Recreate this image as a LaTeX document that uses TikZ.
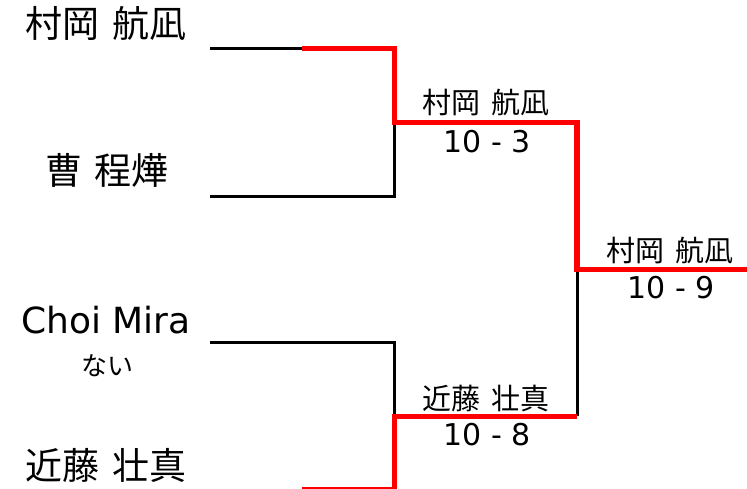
\documentclass[tikz,border=0pt]{standalone}
\usepackage{fontspec}
\setmainfont{DejaVu Sans}
\newfontfamily\cjk{Noto Sans CJK JP}
\newcommand{\gap}{\hspace{0.35em}}
\tikzset{
  loser/.style={draw=black, line width=2.25pt, line join=miter},
  winner/.style={draw=red, line width=4pt, line join=miter},
  bigname/.style={anchor=base, inner sep=0pt, font=\fontsize{27.75}{30}\selectfont},
  latinname/.style={anchor=base, inner sep=0pt, font=\fontsize{27}{30}\selectfont},
  kana/.style={anchor=base, inner sep=0pt, font=\cjk\fontsize{19.5}{22}\selectfont},
  wname/.style={anchor=base, inner sep=0pt, font=\cjk\fontsize{21.75}{24}\selectfont},
  score/.style={anchor=base, inner sep=0pt, font=\fontsize{22.5}{25}\selectfont},
}
\begin{document}
\begin{tikzpicture}[x=0.75pt, y=-0.75pt]
\useasboundingbox (0,0) rectangle (747,489);
% player names
\node[bigname] (p1) at (106,37.5) {\cjk 村岡\gap 航凪};
\node[bigname] (p2) at (107,184.5) {\cjk 曹\gap 程燁};
\node[latinname] (p3) at (106,333) {Choi Mira};
\node[kana]    (p3s) at (107,375.5) {ない};
\node[bigname] (p4) at (106,479.5) {\cjk 近藤\gap 壮真};
% match labels
\node[wname] (w1) at (486,113) {村岡\gap 航凪};
\node[score] (s1) at (487,152) {10 - 3};
\node[wname] (w2) at (486,409) {近藤\gap 壮真};
\node[score] (s2) at (487,445) {10 - 8};
\node[wname] (w3) at (670,261) {村岡\gap 航凪};
\node[score] (s3) at (671,298) {10 - 9};
% bracket coordinates
\coordinate (a0) at (210,48.5);
\coordinate (a1) at (302,48.5);
\coordinate (a2) at (394.3,48.5);
\coordinate (b0) at (210,196.2);
\coordinate (b2) at (394.3,196.2);
\coordinate (m1) at (394.3,122.2);
\coordinate (m1r) at (577,122.2);
\coordinate (c0) at (210,342.8);
\coordinate (c2) at (394.3,342.8);
\coordinate (d0) at (210,490);
\coordinate (d1) at (302,490);
\coordinate (d2) at (394.3,490);
\coordinate (m2) at (394.3,416.3);
\coordinate (m2r) at (577,416.3);
\coordinate (f) at (577,269.7);
\coordinate (fr) at (760,269.7);
\begin{scope}
\clip (0,0) rectangle (747,489);
% losing lines
\draw[loser] (a0) -- (a1);
\draw[loser] (b0) -- (b2) -- (m1);
\draw[loser] (c0) -- (c2) -- (m2);
\draw[loser] (d0) -- (d1);
\draw[loser] (m2r) -- (f);
% winning path
\draw[winner] (a1) -- (a2) -- (m1) -- (m1r) -- (f) -- (fr);
\draw[winner] (d1) -- (d2) -- (m2) -- (m2r);
\end{scope}
\end{tikzpicture}
\end{document}
